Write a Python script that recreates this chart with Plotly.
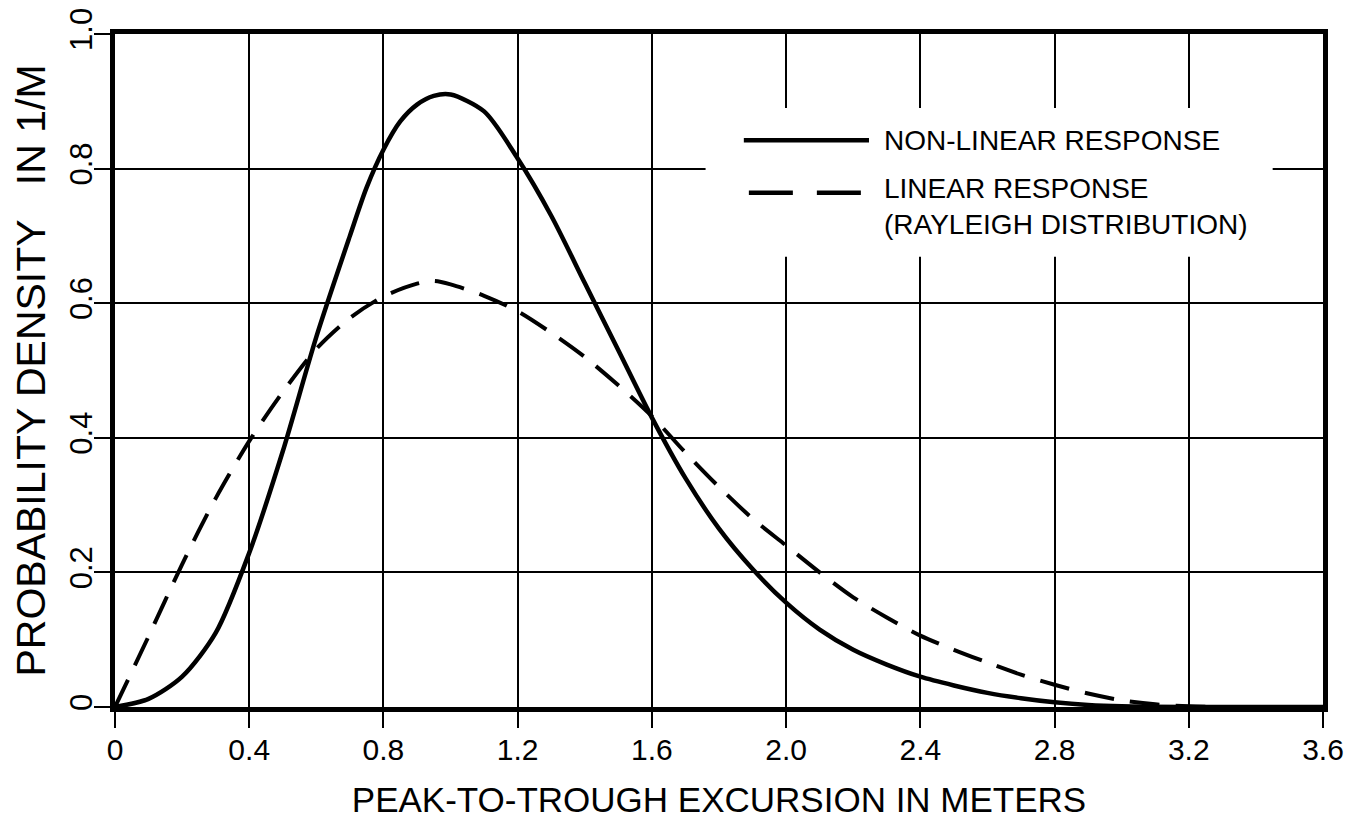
import plotly.graph_objects as go

# values
x_nonlinear = [0, 0.1, 0.2, 0.3, 0.4, 0.5, 0.6, 0.7, 0.75, 0.8, 0.85, 0.9, 0.95, 1.0,
               1.1, 1.2, 1.3, 1.4, 1.5, 1.6, 1.7, 1.8, 1.9, 2.0, 2.1, 2.2, 2.3, 2.4,
               2.5, 2.6, 2.7, 2.8, 2.9, 3.0, 3.2, 3.6]
y_nonlinear = [0, 0.012, 0.045, 0.11, 0.229, 0.38, 0.55, 0.70, 0.772, 0.828, 0.870, 0.895, 0.908, 0.910,
               0.885, 0.815, 0.73, 0.63, 0.53, 0.43, 0.34, 0.265, 0.205, 0.155, 0.115, 0.085, 0.063, 0.045,
               0.032, 0.021, 0.013, 0.007, 0.003, 0.001, 0.0, 0.0]

x_linear = [0, 0.1, 0.2, 0.3, 0.4, 0.5, 0.6, 0.7, 0.8, 0.9, 0.95, 1.0, 1.1, 1.2, 1.3, 1.4, 1.5,
            1.6, 1.7, 1.8, 1.9, 2.0, 2.1, 2.2, 2.3, 2.4, 2.5, 2.6, 2.7, 2.8, 2.9, 3.0, 3.1, 3.2, 3.3]
y_linear = [0, 0.105, 0.212, 0.31, 0.395, 0.468, 0.532, 0.578, 0.61, 0.629, 0.633, 0.628, 0.611, 0.588,
            0.556, 0.52, 0.478, 0.432, 0.378, 0.327, 0.28, 0.24, 0.2, 0.163, 0.133, 0.106, 0.085, 0.066,
            0.048, 0.033, 0.02, 0.01, 0.004, 0.001, 0.0]

x_ticks = [0, 0.4, 0.8, 1.2, 1.6, 2.0, 2.4, 2.8, 3.2, 3.6]
x_ticklabels = ["0", "0.4", "0.8", "1.2", "1.6", "2.0", "2.4", "2.8", "3.2", "3.6"]
y_ticks = [0, 0.2, 0.4, 0.6, 0.8, 1.0]
y_ticklabels = ["0", "0.2", "0.4", "0.6", "0.8", "1.0"]

FONT = "Liberation Sans, Arial, sans-serif"

fig = go.Figure()
fig.add_trace(go.Scatter(x=x_nonlinear, y=y_nonlinear, mode="lines", name="NON-LINEAR RESPONSE",
                         line=dict(color="black", width=4.5, shape="spline", smoothing=0.8),
                         showlegend=False))
fig.add_trace(go.Scatter(x=x_linear, y=y_linear, mode="lines", name="LINEAR RESPONSE",
                         line=dict(color="black", width=4, dash="30px,16px", shape="spline", smoothing=0.8),
                         showlegend=False))

# white box behind the legend text, hides the grid there
fig.add_shape(type="rect", xref="x", yref="y", x0=1.76, x1=3.45, y0=0.669, y1=0.89,
              fillcolor="white", line=dict(width=0), layer="above")
# legend samples
fig.add_shape(type="line", xref="x", yref="y", x0=1.874, x1=2.247, y0=0.842, y1=0.842,
              line=dict(color="black", width=4.5), layer="above")
fig.add_shape(type="line", xref="x", yref="y", x0=1.889, x1=2.247, y0=0.764, y1=0.764,
              line=dict(color="black", width=4.5, dash="44px,24px"), layer="above")
fig.add_annotation(x=2.285, y=0.842, xref="x", yref="y", text="NON-LINEAR RESPONSE",
                   showarrow=False, xanchor="left", font=dict(size=28, color="black", family=FONT))
fig.add_annotation(x=2.285, y=0.743, xref="x", yref="y",
                   text="LINEAR RESPONSE<br>(RAYLEIGH DISTRIBUTION)",
                   showarrow=False, xanchor="left", align="left",
                   font=dict(size=28, color="black", family=FONT))

fig.update_xaxes(range=[0, 3.6], tickvals=x_ticks, ticktext=x_ticklabels, automargin=False,
                 showgrid=True, gridcolor="black", gridwidth=2, zeroline=False,
                 showline=True, linecolor="black", linewidth=5, mirror=True,
                 ticks="outside", ticklen=16, tickwidth=2, tickcolor="black",
                 ticklabeloverflow="allow", ticklabelstandoff=-4,
                 tickfont=dict(size=30, color="black", family=FONT),
                 title=dict(text="PEAK-TO-TROUGH EXCURSION IN METERS", standoff=24,
                            font=dict(size=35, color="black", family=FONT)))
fig.update_yaxes(range=[0, 1.0], tickvals=y_ticks, ticktext=y_ticklabels, tickangle=-90, automargin=False,
                 showgrid=True, gridcolor="black", gridwidth=2, zeroline=False,
                 showline=True, linecolor="black", linewidth=5, mirror=True,
                 ticks="outside", ticklen=16, tickwidth=2, tickcolor="black",
                 ticklabeloverflow="allow", ticklabelstandoff=-10,
                 tickfont=dict(size=31, color="black", family=FONT),
                 title=dict(text="PROBABILITY DENSITY\u00a0\u00a0 IN 1/M", standoff=30,
                            font=dict(size=41, color="black", family=FONT)))

# page body adds an 8px offset, so the figure is sized to fit the window
fig.update_layout(width=1350, height=821, plot_bgcolor="white", paper_bgcolor="white",
                  margin=dict(l=107, r=35, t=26, b=122), showlegend=False)

fig.write_html("out.html")
